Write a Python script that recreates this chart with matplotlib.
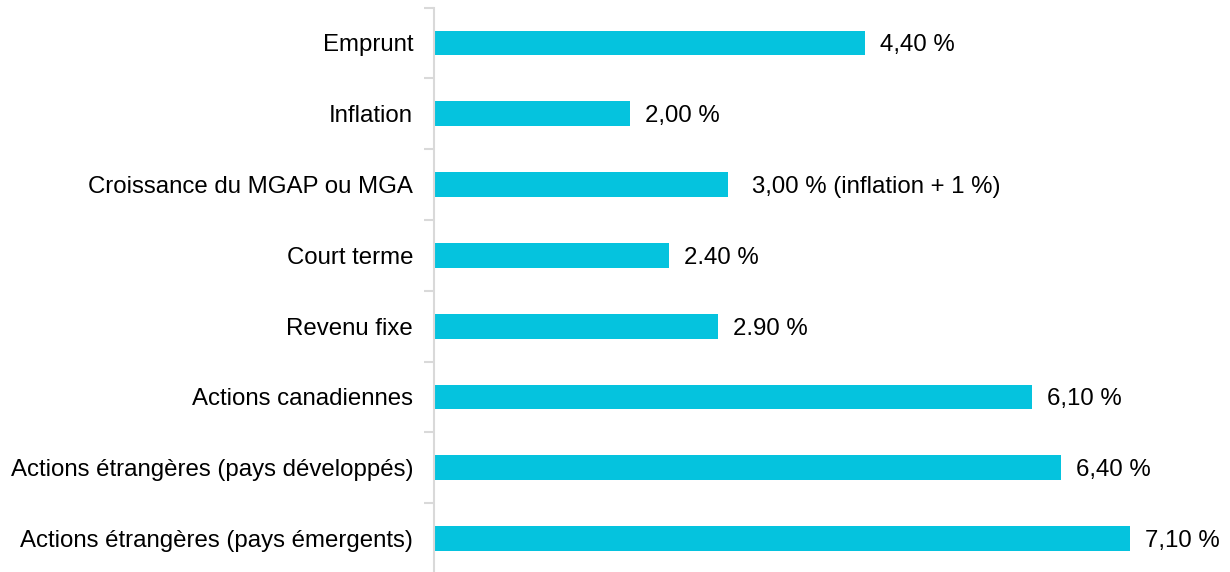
import matplotlib.pyplot as plt
from matplotlib.ticker import FixedLocator

plt.rcParams['font.family'] = ['Liberation Sans', 'DejaVu Sans']

categories = ["Emprunt", "Inflation", "Croissance du MGAP ou MGA", "Court terme",
              "Revenu fixe", "Actions canadiennes",
              "Actions étrangères (pays développés)",
              "Actions étrangères (pays émergents)"]
values = [4.40, 2.00, 3.00, 2.40, 2.90, 6.10, 6.40, 7.10]
value_labels = ["4,40 %", "2,00 %", "3,00 % (inflation + 1 %)", "2.40 %",
                "2.90 %", "6,10 %", "6,40 %", "7,10 %"]

bar_color = "#05c3de"
axis_color = "#d9d9d9"
fs = 17.3

fig = plt.figure(figsize=(12.3, 5.72), dpi=100)
ax = fig.add_axes([434 / 1230, -2 / 572, 1 - 434 / 1230, (572 - 7.5 + 2) / 572])

ypos = list(range(len(categories)))
ax.barh(ypos, values, height=0.35, color=bar_color)

ax.set_xlim(0, (1230 - 434) / 98)
ax.set_ylim(len(categories) - 0.5, -0.5)

for s in ["top", "right", "bottom"]:
    ax.spines[s].set_visible(False)
ax.spines["left"].set_color(axis_color)
ax.spines["left"].set_linewidth(1.5)

ax.set_xticks([])
ax.set_yticks(ypos)
ax.set_yticklabels(categories, fontsize=fs, color="black")
for t in ax.get_yticklabels():
    t.set_verticalalignment("center_baseline")
ax.tick_params(axis="y", which="major", length=0, pad=15)
ax.yaxis.set_minor_locator(FixedLocator([i - 0.5 for i in range(len(categories) + 1)]))
ax.tick_params(axis="y", which="minor", length=7, width=1.5, color=axis_color)

for i, (v, lab) in enumerate(zip(values, value_labels)):
    off = 24 if "inflation" in lab else 15
    ax.annotate(lab, (v, i), xytext=(off * 0.72, 0), textcoords="offset points",
                va="center_baseline", ha="left", fontsize=fs, color="black")

fig.savefig("out.png", dpi=100)
